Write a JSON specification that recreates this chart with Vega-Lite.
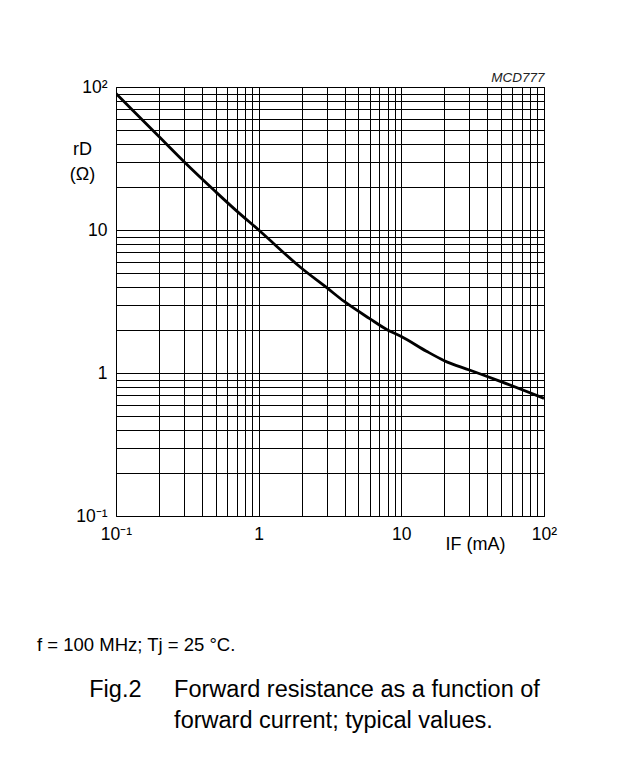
{
  "$schema": "https://vega.github.io/schema/vega-lite/v6.json",
  "autosize": "none",
  "width": 428,
  "height": 429,
  "padding": {"left": 116, "top": 87, "right": 97, "bottom": 258},
  "background": "white",
  "config": {
    "font": "Liberation Sans",
    "view": {"stroke": "black", "strokeWidth": 1}
  },
  "title": {
    "text": "f = 100 MHz; Tj = 25 °C.",
    "orient": "bottom",
    "anchor": "start",
    "frame": "group",
    "dx": -79,
    "offset": 83,
    "font": "Liberation Sans",
    "fontSize": 18.5,
    "fontWeight": "normal",
    "color": "black",
    "subtitle": [
      "\u200b\u00a0\u00a0\u00a0\u00a0\u00a0\u00a0\u00a0\u00a0Fig.2\u00a0\u00a0\u00a0\u00a0\u00a0Forward resistance as a function of",
      "\u200b\u00a0\u00a0\u00a0\u00a0\u00a0\u00a0\u00a0\u00a0\u00a0\u00a0\u00a0\u00a0\u00a0\u00a0\u00a0\u00a0\u00a0\u00a0\u00a0\u00a0\u00a0forward current; typical values."
    ],
    "subtitleFont": "Liberation Sans",
    "subtitleFontSize": 23.5,
    "subtitleColor": "black",
    "subtitlePadding": 23,
    "subtitleLineHeight": 31
  },
  "data": {
    "values": [
      {"IF": 0.1, "rD": 90},
      {"IF": 0.2, "rD": 45},
      {"IF": 0.3, "rD": 30},
      {"IF": 0.5, "rD": 18.5},
      {"IF": 0.7, "rD": 13.6},
      {"IF": 1, "rD": 10},
      {"IF": 2, "rD": 5.4},
      {"IF": 3, "rD": 3.95},
      {"IF": 4, "rD": 3.15},
      {"IF": 6, "rD": 2.4},
      {"IF": 8, "rD": 2.0},
      {"IF": 10, "rD": 1.8},
      {"IF": 15, "rD": 1.42},
      {"IF": 20, "rD": 1.22},
      {"IF": 30, "rD": 1.05},
      {"IF": 50, "rD": 0.87},
      {"IF": 100, "rD": 0.665}
    ]
  },
  "layer": [
    {
      "mark": {"type": "line", "color": "black", "strokeWidth": 2.8, "interpolate": "monotone", "clip": true},
      "encoding": {
        "x": {
          "field": "IF",
          "type": "quantitative",
          "scale": {"type": "log", "domain": [0.1, 100], "nice": false},
          "axis": {
            "orient": "bottom",
            "values": [0.1,0.2,0.3,0.4,0.5,0.6,0.7,0.8,0.9,1,2,3,4,5,6,7,8,9,10,20,30,40,50,60,70,80,90,100],
            "labelExpr": "datum.value == 0.1 ? '10⁻¹' : datum.value == 1 ? '1' : datum.value == 10 ? '10' : datum.value == 100 ? '10²' : ''",
            "grid": true,
            "gridColor": "black",
            "gridOpacity": 1,
            "gridWidth": 1,
            "ticks": false,
            "domain": false,
            "labelFlush": false,
            "labelOverlap": false,
            "labelBound": false,
            "labelFont": "Liberation Sans",
            "labelFontSize": 17.5,
            "labelColor": "black",
            "labelPadding": 9,
            "title": "IF (mA)",
            "titleFont": "Liberation Sans",
            "titleFontSize": 18,
            "titleFontWeight": "normal",
            "titleColor": "black",
            "titleAlign": "center",
            "titleBaseline": "alphabetic",
            "titleX": 359,
            "titleY": 33
          }
        },
        "y": {
          "field": "rD",
          "type": "quantitative",
          "scale": {"type": "log", "domain": [0.1, 100], "nice": false},
          "axis": {
            "orient": "left",
            "values": [0.1,0.2,0.3,0.4,0.5,0.6,0.7,0.8,0.9,1,2,3,4,5,6,7,8,9,10,20,30,40,50,60,70,80,90,100],
            "labelExpr": "datum.value == 0.1 ? '10⁻¹' : datum.value == 1 ? '1' : datum.value == 10 ? '10' : datum.value == 100 ? '10²' : ''",
            "grid": true,
            "gridColor": "black",
            "gridOpacity": 1,
            "gridWidth": 1,
            "ticks": false,
            "domain": false,
            "labelFlush": false,
            "labelOverlap": false,
            "labelBound": false,
            "labelFont": "Liberation Sans",
            "labelFontSize": 17.5,
            "labelColor": "black",
            "labelPadding": 9,
            "title": ["rD", "(Ω)"],
            "titleFont": "Liberation Sans",
            "titleFontSize": 18,
            "titleFontWeight": "normal",
            "titleColor": "black",
            "titleAngle": 0,
            "titleAlign": "center",
            "titleBaseline": "alphabetic",
            "titleLineHeight": 25,
            "titleX": -34,
            "titleY": 67
          }
        }
      }
    },
    {
      "mark": {"type": "point", "opacity": 0},
      "encoding": {
        "x": {
          "field": "IF",
          "type": "quantitative",
          "axis": {
            "orient": "top",
            "labels": false,
            "ticks": false,
            "domain": false,
            "grid": false,
            "title": "MCD777",
            "titleFont": "Liberation Sans",
            "titleFontSize": 13.5,
            "titleFontStyle": "italic",
            "titleFontWeight": "normal",
            "titleColor": "#222222",
            "titleAlign": "right",
            "titleBaseline": "alphabetic",
            "titleX": 428,
            "titleY": -6
          }
        },
        "y": {"field": "rD", "type": "quantitative"}
      }
    }
  ],
  "resolve": {"axis": {"x": "independent"}}
}
